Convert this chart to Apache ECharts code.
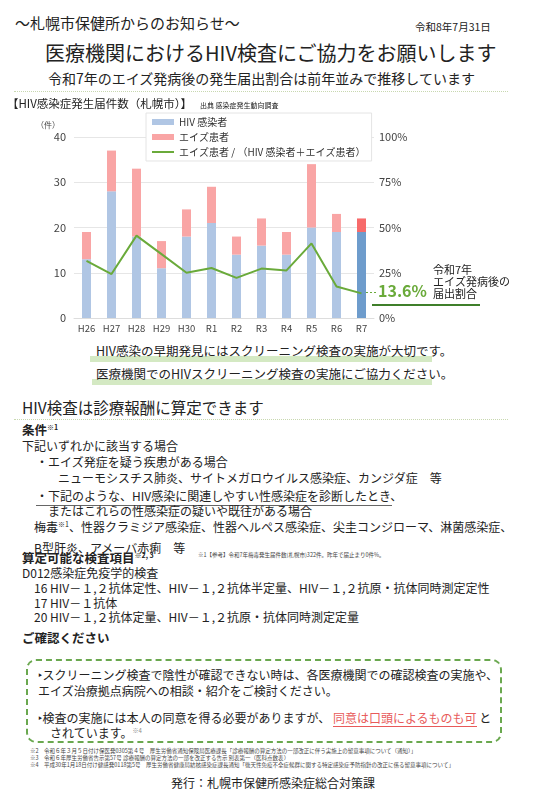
<!DOCTYPE html>
<html><head><meta charset="utf-8">
<script src="https://cdn.jsdelivr.net/npm/echarts@6/dist/echarts.min.js"></script>
<style>
body{margin:0;width:554px;height:800px;position:relative;background:#fff;font-family:"Noto Sans CJK JP","Noto Sans",sans-serif;color:#222;overflow:hidden}
.t{position:absolute;white-space:nowrap;line-height:1}
.b{font-size:12px}
.hl{position:absolute;height:6px;background:#c9e4b4;opacity:.8}
.dot{position:absolute;left:14px;width:494px;border-top:1px dotted #c8d8b0}
.fn{position:absolute;white-space:nowrap;font-size:5.5px;color:#444;line-height:1}
sup{line-height:0}
</style></head><body>
<div class="t" style="left:15px;top:15px;font-size:15px">〜札幌市保健所からのお知らせ〜</div>
<div class="t" style="left:415px;top:22px;font-size:10.5px">令和8年7月31日</div>
<div class="t" style="left:45px;top:43px;font-size:20px">医療機関におけるHIV検査にご協力をお願いします</div>
<div class="t" style="left:48px;top:71px;font-size:14px">令和7年のエイズ発病後の発生届出割合は前年並みで推移しています</div>
<div class="dot" style="top:91px"></div>
<div id="c" style="position:absolute;left:0;top:95px;width:554px;height:245px"></div>
<div class="hl" style="left:90px;top:356px;width:342px"></div>
<div class="hl" style="left:92px;top:379px;width:340px"></div>
<div class="t" style="left:96px;top:345px;font-size:12.5px">HIV感染の早期発見にはスクリーニング検査の実施が大切です。</div>
<div class="t" style="left:96px;top:368px;font-size:12.5px">医療機関でのHIVスクリーニング検査の実施にご協力ください。</div>
<div class="t" style="left:22px;top:400px;font-size:15.5px">HIV検査は診療報酬に算定できます</div>
<div class="dot" style="top:419px"></div>
<div class="t" style="left:22px;top:424px;font-size:12.5px;font-weight:bold">条件<sup style="font-size:7px">※1</sup></div>
<div class="t b" style="left:22px;top:440px">下記いずれかに該当する場合</div>
<div class="t b" style="left:36px;top:456px">・エイズ発症を疑う疾患がある場合</div>
<div class="t b" style="left:58px;top:472px">ニューモシスチス肺炎、サイトメガロウイルス感染症、カンジダ症　等</div>
<div class="t b" style="left:36px;top:490px">・下記のような、HIV感染に関連しやすい性感染症を診断したとき、</div>
<div style="position:absolute;left:36px;top:505px;width:356px;border-top:1px solid #666"></div>
<div class="t b" style="left:48px;top:505px">またはこれらの性感染症の疑いや既往がある場合</div>
<div class="t b" style="left:34px;top:521px">梅毒<sup style="font-size:7px">※1</sup>、性器クラミジア感染症、性器ヘルペス感染症、尖圭コンジローマ、淋菌感染症、</div>
<div class="t b" style="left:34px;top:542px">B型肝炎、アメーバ赤痢　等</div>
<div class="t" style="left:22px;top:552px;font-size:12.5px;font-weight:bold">算定可能な検査項目<sup style="font-size:7px">※2, 3</sup></div>
<div class="fn" style="left:198px;top:553px">※1【参考】令和7年梅毒発生届件数(札幌市)322件。昨年で届止まり0件%。</div>
<div class="t b" style="left:22px;top:567px">D012感染症免疫学的検査</div>
<div class="t b" style="left:34px;top:582px">16 HIV－１,２抗体定性、HIV－１,２抗体半定量、HIV－１,２抗原・抗体同時測定定性</div>
<div class="t b" style="left:34px;top:597px">17 HIV－１抗体</div>
<div class="t b" style="left:34px;top:611px">20 HIV－１,２抗体定量、HIV－１,２抗原・抗体同時測定定量</div>
<div class="t" style="left:22px;top:632px;font-size:12.5px;font-weight:bold">ご確認ください</div>
<div style="position:absolute;left:26px;top:659px;width:472px;height:80px;border:2px dashed #6aa84f;border-radius:10px"></div>
<div class="t b" style="left:38px;top:669px">‣スクリーニング検査で陰性が確認できない時は、各医療機関での確認検査の実施や、</div>
<div class="t b" style="left:38px;top:685px">エイズ治療拠点病院への相談・紹介をご検討ください。</div>
<div class="t b" style="left:38px;top:712px">‣検査の実施には本人の同意を得る必要がありますが、 <span style="color:#e85a5a;border-bottom:1px solid #e85a5a">同意は口頭によるものも可</span> と</div>
<div class="t b" style="left:50px;top:727px">されています。<sup style="font-size:6px;color:#888">※4</sup></div>
<div class="fn" style="left:30px;top:749px">※2　令和６年３月５日付け保医発0305第４号　厚生労働省通知保険局医療課長「診療報酬の算定方法の一部改正に伴う実施上の留意事項について（通知）」</div>
<div class="fn" style="left:30px;top:756px">※3　令和６年厚生労働省告示第57号 診療報酬の算定方法の一部を改正する告示 別表第一（医科点数表）</div>
<div class="fn" style="left:30px;top:763px">※4　平成30年1月18日付け健感発0118第5号　厚生労働省健康局結核感染症課長通知「後天性免疫不全症候群に関する特定感染症予防指針の改正に係る留意事項について」</div>
<div class="t" style="left:171px;top:777px;font-size:12px">発行：札幌市保健所感染症総合対策課</div>
<script>
const categories=['H26','H27','H28','H29','H30','R1','R2','R3','R4','R5','R6','R7'];
const hivCases=[13,28,18,11,18,21,14,16,14,20,19,19];
const aidsCases=[6,9,15,6,6,8,4,6,5,14,4,3];
const aidsRatio=[31.6,24.3,45.5,35.3,25.0,27.6,22.2,27.3,26.3,41.2,17.4,13.6];
const last=categories.length-1;
const chart=echarts.init(document.getElementById('c'));
const tf='"Noto Sans CJK JP",sans-serif';
chart.setOption({
 animation:false,
 textStyle:{fontFamily:tf},
 grid:{left:74,right:180,top:42,bottom:22},
 legend:{orient:'vertical',left:146,top:18,itemWidth:22,itemHeight:6,itemGap:5,padding:[4,6],
   backgroundColor:'#fff',borderColor:'#e4e4e4',borderWidth:1,textStyle:{fontSize:10,color:'#333'},
   data:[{name:'HIV 感染者',icon:'rect',itemStyle:{color:'#b0c6e4'}},{name:'エイズ患者',icon:'rect',itemStyle:{color:'#f9a5a5'}},{name:'エイズ患者 / （HIV 感染者＋エイズ患者）',icon:'path://M0,0 L22,0 L22,2 L0,2 Z',itemStyle:{color:'#6aaa3a'}}]},
 xAxis:{type:'category',data:categories,axisTick:{show:false},axisLine:{lineStyle:{color:'#ddd'}},axisLabel:{interval:0,color:'#444',fontSize:9.5,margin:6}},
 yAxis:[{type:'value',min:0,max:40,interval:10,axisLabel:{color:'#444',fontSize:11,margin:8},splitLine:{lineStyle:{color:'#e6e6e6'}},axisLine:{show:false}},
   {type:'value',min:0,max:100,interval:25,axisLabel:{color:'#444',fontSize:11,formatter:'{value}%',margin:5},splitLine:{show:false},axisLine:{show:false}}],
 graphic:[
  {type:'text',left:7,top:3,style:{text:'【HIV感染症発生届件数（札幌市）】',fontSize:11.5,fill:'#222',fontFamily:tf}},
  {type:'text',left:200,top:7,style:{text:'出典 感染症発生動向調査',fontSize:7,fill:'#222',fontFamily:tf}},
  {type:'text',left:36,top:26,style:{text:'（件）',fontSize:8,fill:'#444',fontFamily:tf}},
  {type:'text',left:433,top:169,style:{text:'令和7年\nエイズ発病後の\n届出割合',fontSize:11,lineHeight:12,fill:'#222',fontFamily:tf}},
  {type:'text',left:378,top:188,style:{text:aidsRatio[last]+'%',fontSize:16,fontWeight:'bold',fill:'#6aaa3a',fontFamily:tf}},
  {type:'line',shape:{x1:372,y1:210,x2:480,y2:210},style:{stroke:'#3f7f2a',lineWidth:2}},
  {type:'line',shape:{x1:362,y1:197.5,x2:378,y2:197.5},style:{stroke:'#6aaa3a',lineWidth:1,lineDash:[2,2]}}
 ],
 series:[
  {name:'HIV 感染者',type:'bar',stack:'a',barWidth:9,data:hivCases.map((v,i)=>({value:v,itemStyle:{color:i===last?'#6e9ccc':'#b0c6e4'}}))},
  {name:'エイズ患者',type:'bar',stack:'a',data:aidsCases.map((v,i)=>({value:v,itemStyle:{color:i===last?'#f76a6a':'#f9a5a5'}}))},
  {name:'エイズ患者 / （HIV 感染者＋エイズ患者）',type:'line',yAxisIndex:1,data:aidsRatio,symbol:'none',lineStyle:{color:'#6aaa3a',width:2},itemStyle:{color:'#6aaa3a'}}
 ]
});
</script>
</body></html>
